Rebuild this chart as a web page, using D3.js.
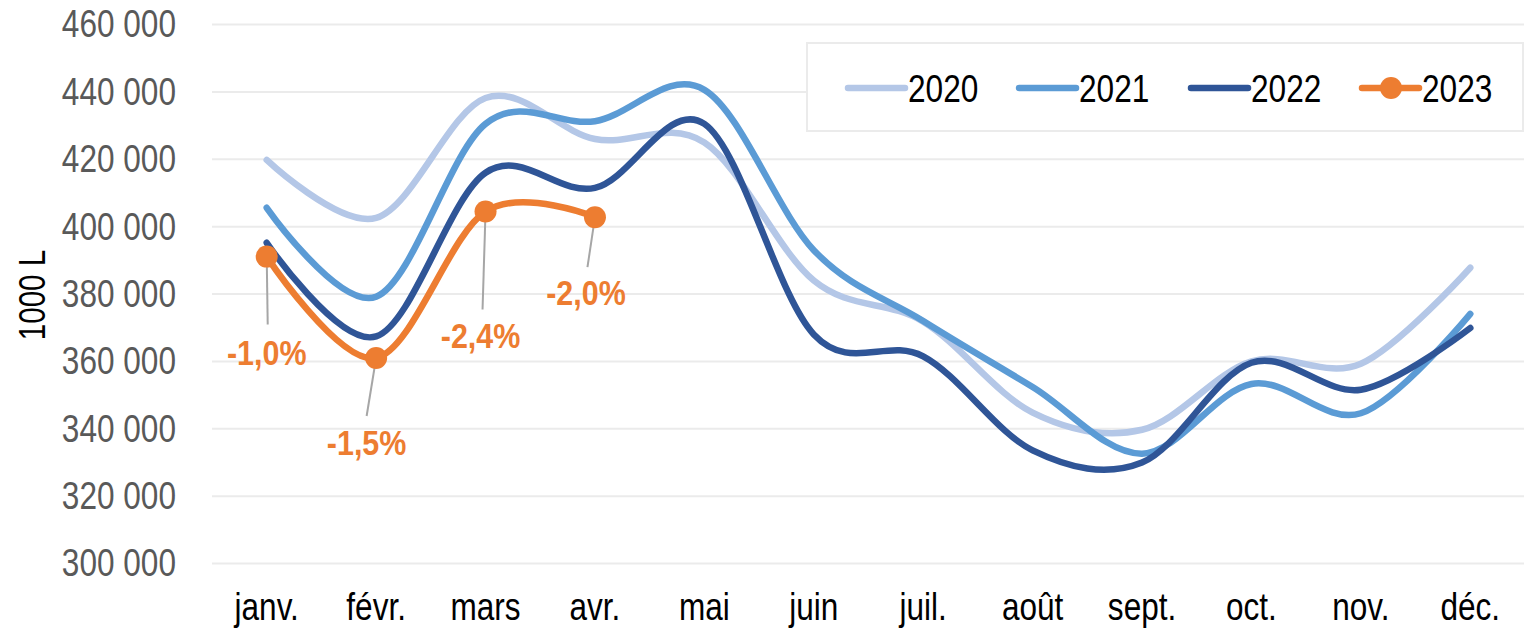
<!DOCTYPE html>
<html><head><meta charset="utf-8">
<script src="https://cdn.jsdelivr.net/npm/d3@7/dist/d3.min.js"></script>
<style>
body{margin:0;background:#fff}
svg{display:block}
text{font-family:"Liberation Sans Narrow","Arial Narrow","Liberation Sans",Arial,sans-serif}
</style>
</head><body>
<svg id="chart" width="1524" height="631"></svg>
<script>
// ---- data ----
const months = ["janv.","févr.","mars","avr.","mai","juin","juil.","août","sept.","oct.","nov.","déc."];
const years = ["2020","2021","2022","2023"];
const s2020 = [419800,402600,438200,426000,425000,384000,371800,344800,339700,360000,359300,387800];
const s2021 = [405600,379200,430500,431300,440600,393000,372000,352400,332600,353300,344600,374100];
const s2022 = [395200,367400,416000,411500,430500,368000,361500,333600,330000,359600,351600,369900];
const s2023 = [391100,361000,404500,402800];
const labels2023 = ["-1,0%","-1,5%","-2,4%","-2,0%"];
const yTicks = [300000,320000,340000,360000,380000,400000,420000,440000,460000];
const yTitle = "1000 L";

// ---- layout / style ----
const colors = {"2020":"#B4C7E7","2021":"#5B9BD5","2022":"#2F5597","2023":"#ED7D31"};
const series = [["2020",s2020],["2021",s2021],["2022",s2022],["2023",s2023]];
// label offsets relative to the point: [dx text, dy baseline, dx leader end, dy leader end]
const labelLayout = [[0,108,1,68],[-9.5,97,-9.5,58],[-5,137,-3,98],[-9,88,-7.5,50]];

// condense text horizontally (narrow font look)
function narrow(sel, k){
  sel.each(function(){
    const w = this.getComputedTextLength();
    this.setAttribute("textLength", (w*k).toFixed(1));
    this.setAttribute("lengthAdjust","spacingAndGlyphs");
  });
}

const svg = d3.select("#chart");
const x = d3.scaleBand().domain(months).range([212,1525]);
const y = d3.scaleLinear().domain([300000,460000]).range([563.5,24.5]);
const cx = m => x(m) + x.bandwidth()/2;

// gridlines
svg.append("g").selectAll("line").data(yTicks).join("line")
  .attr("x1",212).attr("x2",1524)
  .attr("y1",d=>y(d)).attr("y2",d=>y(d))
  .attr("stroke","#EBEBEB").attr("stroke-width",2);

// y axis
const fmt = d => d3.format(",")(d).replace(/,/g," ");
const yAxis = svg.append("g").attr("transform","translate(180,0)")
  .call(d3.axisLeft(y).tickValues(yTicks).tickFormat(fmt).tickSize(0).tickPadding(4));
yAxis.select(".domain").remove();
yAxis.selectAll("text").attr("font-size",39).attr("fill","#595959")
  .style("font-family",'"Liberation Sans Narrow","Arial Narrow","Liberation Sans",sans-serif')
  .call(narrow,0.81);

// x axis
const xAxis = svg.append("g").attr("transform","translate(0,590)")
  .call(d3.axisBottom(x).tickSize(0).tickPadding(0));
xAxis.select(".domain").remove();
xAxis.selectAll("text").attr("font-size",38).attr("fill","#000").attr("dy","0.8em")
  .style("font-family",'"Liberation Sans Narrow","Arial Narrow","Liberation Sans",sans-serif')
  .call(narrow,0.83);

// y title
svg.append("text").attr("transform","translate(45,295) rotate(-90)")
  .attr("text-anchor","middle").attr("font-size",36).attr("fill","#000").text(yTitle)
  .call(narrow,0.82);

// lines
const line = d3.line().x((d,i)=>cx(months[i])).y(d=>y(d)).curve(d3.curveCatmullRom.alpha(0));
series.forEach(([name,vals])=>{
  svg.append("path").datum(vals).attr("d",line)
    .attr("fill","none").attr("stroke",colors[name]).attr("stroke-width",6.5)
    .attr("stroke-linecap","round").attr("stroke-linejoin","round");
});

// 2023 markers, leaders, labels
const g23 = svg.append("g");
s2023.forEach((v,i)=>{
  const px = cx(months[i]), py = y(v), L = labelLayout[i];
  g23.append("line").attr("x1",px).attr("y1",py).attr("x2",px+L[2]).attr("y2",py+L[3])
    .attr("stroke","#A6A6A6").attr("stroke-width",2);
});
g23.selectAll("circle").data(s2023).join("circle")
  .attr("cx",(d,i)=>cx(months[i])).attr("cy",d=>y(d)).attr("r",11).attr("fill",colors["2023"]);
s2023.forEach((v,i)=>{
  const px = cx(months[i]), py = y(v), L = labelLayout[i];
  g23.append("text").attr("x",px+L[0]).attr("y",py+L[1]).attr("text-anchor","middle")
    .attr("font-size",35).attr("font-weight","bold").attr("fill",colors["2023"]).text(labels2023[i])
    .call(narrow,0.87);
});

// legend
const lg = svg.append("g");
lg.append("rect").attr("x",807).attr("y",43).attr("width",716).attr("height",88)
  .attr("fill","#fff").attr("stroke","#EBEBEB").attr("stroke-width",2);
const legX = [848,1019,1191,1362];
years.forEach((yr,i)=>{
  const lx = legX[i];
  lg.append("line").attr("x1",lx).attr("x2",lx+57).attr("y1",88).attr("y2",88)
    .attr("stroke",colors[yr]).attr("stroke-width",6.5).attr("stroke-linecap","round");
  if(yr==="2023") lg.append("circle").attr("cx",lx+29).attr("cy",88).attr("r",11).attr("fill",colors[yr]);
  lg.append("text").attr("x",lx+60).attr("y",88).attr("dy","0.36em")
    .attr("font-size",39).attr("fill","#000").text(yr).call(narrow,0.81);
});
</script>
</body></html>
